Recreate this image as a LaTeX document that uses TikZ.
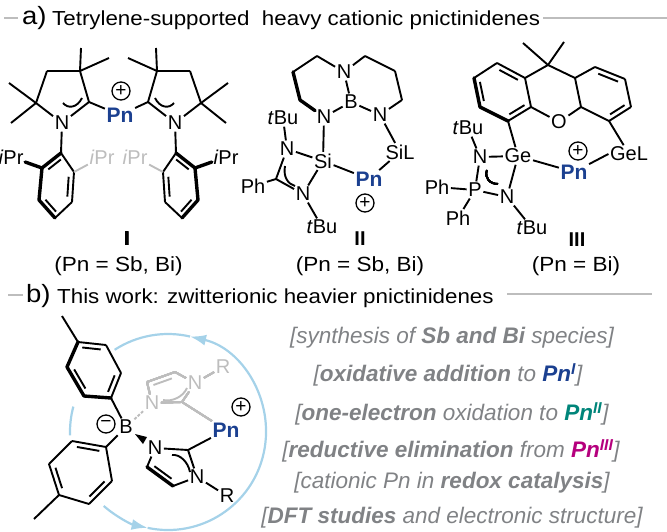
\documentclass[tikz,border=0pt]{standalone}
\usepackage{fontspec}
\setmainfont{Liberation Sans}
\newfontfamily\widefont[FakeStretch=1.1]{Liberation Sans}
\usetikzlibrary{calc,arrows.meta}

\definecolor{pnblue}{HTML}{1B4090}
\definecolor{pnteal}{HTML}{00857A}
\definecolor{pnpink}{HTML}{B5007D}
\definecolor{paleblue}{HTML}{A5D2E9}
\definecolor{listgray}{HTML}{808285}
\definecolor{backgray}{HTML}{BDBDBD}

\tikzset{
	atom/.style={inner sep=1.5pt,font=\fontsize{20}{20}\selectfont},
	backatom/.style={atom,text=backgray},
	pnatom/.style={atom,text=pnblue,font=\fontsize{21}{21}\selectfont\bfseries},
	charge/.style={draw,circle,line width=1.3pt,minimum size=18pt,inner sep=0pt,font=\fontsize{19}{19}\selectfont},
	numeral/.style={atom,font=\fontsize{20}{20}\selectfont\bfseries},
	bond/.style={line width=1.9pt},
	boldbond/.style={line width=3.4pt,line cap=round,line join=round},
	backbond/.style={bond,color=backgray},
	ringarrow/.style={line width=2.2pt,color=paleblue},
	ringtip/.style={ringarrow,-{Latex[length=16pt,width=11pt]}},
	sectionrule/.style={line width=2pt,color=backgray},
	compound/.style={inner sep=0pt,anchor=base,font=\widefont\fontsize{20.5}{20.5}\selectfont},
	heading/.style={inner sep=0pt,anchor=base west,font=\widefont\fontsize{20.3}{20.3}\selectfont},
	tagletter/.style={inner sep=0pt,anchor=base west,font=\widefont\fontsize{25}{25}\selectfont},
	listline/.style={inner sep=0pt,text=listgray,font=\fontsize{22.5}{23}\selectfont\itshape}
}
\newcommand{\innerbond}[3][bond]{\draw[#1] ($(#2)!.17!(#3)!5pt!90:(#3)$) -- ($(#3)!.17!(#2)!5pt!-90:(#2)$);}

\begin{document}
\begin{tikzpicture}[x=1pt,y=-1pt]
\useasboundingbox (0,0) rectangle (667,532);

%headings
\draw[sectionrule] (4,18) -- (18,18);
\node[tagletter] (taga) at (22,25) {a)};
\node[heading] (heada) at (52,26) {Tetrylene-supported\ \ heavy cationic pnictinidenes};
\draw[sectionrule] (543,18) -- (667,18);
\draw[sectionrule] (8,295) -- (23,295);
\node[tagletter] (tagb) at (26,302) {b)};
\node[heading] (headb) at (57,303) {This work: zwitterionic heavier pnictinidenes};
\draw[sectionrule] (507,294) -- (652,294);

%compound I
\node[pnatom] (Pna) at (120,115) {Pn};
\node[charge] (plusa) at (121,91) {+};
\foreach \p/\m/\o in {l/1/0,r/-1/237}{
	\begin{scope}[xshift=\o,xscale=\m]
	\foreach \n/\x/\y in {c1/36/103,c2/47/71,c3/80/71,c4/89/102,m1/9/83,m2/11/123,m3/81/48,m4/109/58,
		a1/61/153,a2/42/168,a3/39/200,a4/55/218,a5/72/202,a6/74/172}
		\coordinate (\p\n) at (\x,\y);
	\node[atom] (\p N) at (62,123) {N};
	\node[atom] (\p ipr) at (11,157) {\textit{i}Pr};
	\node[backatom] (\p gipr) at (102,157) {\textit{i}Pr};
	\foreach \a/\b in {c1/c2,c2/c3,c3/c4,c4/N,N/c1,c1/m1,c1/m2,c3/m3,c3/m4,N/a1,a4/a5,a5/a6,a6/a1}
		\draw[bond] (\p\a) -- (\p\b);
	\draw[bond] (\p c4) -- (Pna);
	\draw[boldbond] (\p a1) -- (\p a2) -- (\p a3) -- (\p a4);
	\draw[boldbond] (\p a2) -- (\p ipr);
	\draw[backbond] (\p a6) -- (\p gipr);
	\draw[bond] (63,103) .. controls (68,109) and (77,108) .. (82,98);
	\end{scope}
}
\foreach \a/\b in {la1/la2,la3/la4,la5/la6,ra2/ra1,ra4/ra3,ra6/ra5}
	\innerbond{\a}{\b}
\node[numeral] (numa) at (127,239) {I};
\node[compound] (forma) at (118.5,271) {(Pn = Sb, Bi)};

%compound II
\foreach \n/\x/\y in {d1/365/56,d2/395/71,d3/402/100,d4/317/56,d5/293/72,d6/300/100,d7/276/179}
	\coordinate (\n) at (\x,\y);
\foreach \n/\t/\x/\y in {Nd1/N/344/72,Bd/B/351/102,Nd2/N/380/115,Nd3/N/324/117,Sid/Si/323/161,SiLd/SiL/400/152,
	Nd4/N/287/149,Nd5/N/303/194,Phd/Ph/253/186,tBud1/\textit{t}Bu/283/118,tBud2/\textit{t}Bu/322/227}
	\node[atom] (\n) at (\x,\y) {\t};
\node[pnatom] (Pnd) at (369,179) {Pn};
\node[charge] (plusd) at (365,203) {+};
\foreach \a/\b in {Nd1/d1,d1/d2,d2/d3,d3/Nd2,Nd2/Bd,Bd/Nd1,Bd/Nd3,Nd1/d4,d4/d5,Nd3/Sid,Nd2/SiLd,Sid/Pnd,Pnd/SiLd,
	Nd4/Sid,Sid/Nd5,Nd5/d7,d7/Nd4,d7/Phd,Nd4/tBud1,Nd5/tBud2}
	\draw[bond] (\a) -- (\b);
\draw[boldbond] (d5) -- (d6) -- (Nd3);
\draw[bond] (285,166) .. controls (283,177) and (288,184) .. (295,186);
\node[numeral] (numd) at (360,239) {II};
\node[compound] (formd) at (360,271) {(Pn = Sb, Bi)};

%compound III
\foreach \n/\x/\y in {g0/548/65,g1/523/43,g2/564/42,g3/525/78,g4/497/63,g5/474/78,g6/480/107,g7/508/121,g8/531/107,
	g9/581/107,g10/575/78,g11/595/67,g12/625/79,g13/631/107,g14/609/121}
	\coordinate (\n) at (\x,\y);
\foreach \n/\t/\x/\y in {Og/O/559/122,Geg/Ge/518/156,GeLg/GeL/629/154,Ng1/N/480/157,Pg/P/475/190,Ng2/N/507/197,
	Phg1/Ph/437/187,Phg2/Ph/458/218,tBug1/\textit{t}Bu/468/128,tBug2/\textit{t}Bu/532/228}
	\node[atom] (\n) at (\x,\y) {\t};
\node[pnatom] (Png) at (574,172) {Pn};
\node[charge] (plusg) at (578,151) {+};
\foreach \a/\b in {g0/g1,g0/g2,g0/g3,g0/g10,g3/g4,g4/g5,g7/g8,g8/g3,g8/Og,Og/g9,g9/g10,g10/g11,g11/g12,g12/g13,g13/g14,g14/g9,
	g7/Geg,g14/GeLg,Ng1/Geg,Geg/Ng2,Ng2/Pg,Pg/Ng1,Pg/Phg1,Pg/Phg2,Ng1/tBug1,Ng2/tBug2,Geg/Png,Png/GeLg.west}
	\draw[bond] (\a) -- (\b);
\draw[boldbond] (g5) -- (g6) -- (g7);
\foreach \a/\b in {g5/g6,g7/g8,g3/g4,g14/g13,g12/g11}
	\innerbond{\a}{\b}
\draw[bond] (487,170) .. controls (484,178) and (490,184) .. (498,184);
\node[numeral] (numg) at (577,240) {III};
\node[compound] (formg) at (576,271) {(Pn = Bi)};

%compound of this work
\coordinate (ringc) at (168,432);
\foreach \s/\e/\k in {131/102/ringtip,102/-77/ringtip,-77/-123/ringarrow,195/178/ringarrow}
	\draw[\k] (ringc) ++(\s:98) arc[start angle=\s,end angle=\e,radius=98];
\foreach \n/\x/\y in {u0/62/316,u1/78/342,u2/106/345,u3/121/373,u4/111/398,u5/84/396,u6/67/367,
	w0/34/519,w1/106/447,w2/72/441,w3/49/464,w4/59/495,w5/89/504,w6/112/481,
	x1/147/467,x2/173/486,x3/188/450,y1/147/382,y2/175/372,y3/182/402}
	\coordinate (\n) at (\x,\y);
\node[atom] (Bb) at (126,427) {B};
\node[atom] (Nx1) at (155,448) {N};
\node[atom] (Nx2) at (197,477) {N};
\node[atom] (Rx) at (227,496) {R};
\node[backatom] (Ny1) at (152,403) {N};
\node[backatom] (Ny2) at (195,383) {N};
\node[backatom] (Ry) at (223,367) {R};
\node[pnatom] (Pnb) at (226,430) {Pn};
\node[charge] (plusb) at (241,407) {+};
\node[charge] (minusb) at (106,424) {\char"2212};
\foreach \a/\b in {u0/u1,u1/u2,u2/u3,u3/u4,u4/Bb,w0/w4,w4/w5,w5/w6,w6/w1,w1/w2,w2/w3,w3/w4,w1/Bb,
	Nx1/x1,x2/Nx2,Nx2/x3,x3/Nx1,x3/Pnb,Nx2/Rx}
	\draw[bond] (\a) -- (\b);
\draw[boldbond] (u1) -- (u6) -- (u5) -- (u4);
\draw[boldbond] (x1) -- (x2);
\foreach \a/\b in {u2/u1,u6/u5,u4/u3,w1/w2,w3/w4,w5/w6,x1/x2}
	\innerbond{\a}{\b}
\foreach \a/\b in {Ny1/y1,y1/y2,y2/Ny2,Ny2/y3,y3/Ny1,y3/Pnb,Ny2/Ry}
	\draw[backbond] (\a) -- (\b);
\innerbond[backbond]{y2}{y1}
\draw[backbond,dashed,dash pattern=on 3pt off 1.5pt] (Bb) -- (Ny1);
\fill (135,434) -- (147,437) -- (143,444) -- cycle;
\draw[bond] (172,455) .. controls (180,454) and (188,462) .. (190,472);
\draw[backbond] (163,400) .. controls (172,402) and (183,397) .. (187,388);

%list of results
\node[listline] (res1) at (452,338) {[synthesis of \textbf{Sb and Bi} species]};
\node[listline] (res2) at (448,375) {[\textbf{oxidative addition} to {\color{pnblue}\textbf{Pn\textsuperscript{I}}}]};
\node[listline] (res3) at (452,414) {[\textbf{one-electron} oxidation to {\color{pnteal}\textbf{Pn\textsuperscript{II}}}]};
\node[listline] (res4) at (451,451) {[\textbf{reductive elimination} from {\color{pnpink}\textbf{Pn\textsuperscript{III}}}]};
\node[listline] (res5) at (452,483) {[cationic Pn in \textbf{redox catalysis}]};
\node[listline] (res6) at (452,518) {[\textbf{DFT studies} and electronic structure]};
\end{tikzpicture}
\end{document}
